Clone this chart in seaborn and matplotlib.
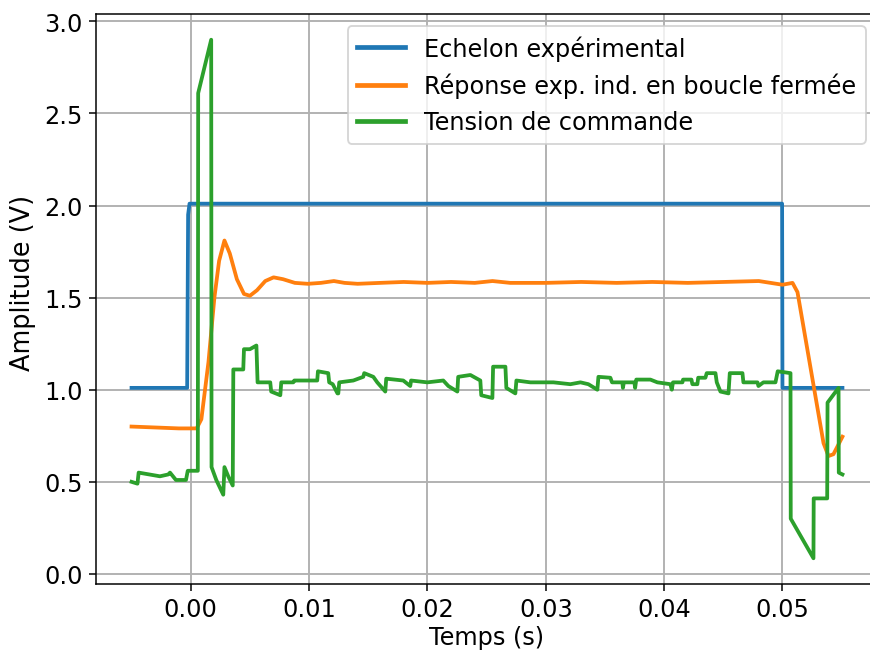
import matplotlib
matplotlib.use("Agg")
import matplotlib.pyplot as plt
import seaborn as sns
import pandas as pd

# ---- data (time in ms) ----
blue_t = [-5.0, -0.30, -0.22, -0.10, 49.97, 50.00, 55.07]
blue_v = [1.01, 1.01, 1.95, 2.01, 2.01, 1.01, 1.01]

orange_t = [-5.0, -3.0, -1.0, 0.5, 0.9, 1.5, 2.0, 2.4, 2.85, 3.3, 3.9, 4.5, 5.0, 5.6,
            6.3, 7.0, 7.8, 8.8, 9.9, 11.0, 12.1, 13.0, 14.1, 16.0, 18.0, 20.0, 22.0,
            24.0, 25.5, 27.0, 30.0, 33.0, 36.0, 39.0, 42.0, 45.0, 48.0, 50.0, 50.85,
            51.27, 53.47, 53.89, 54.31, 55.07]
orange_v = [0.80, 0.795, 0.79, 0.79, 0.84, 1.15, 1.50, 1.70, 1.81, 1.74, 1.60, 1.52,
            1.51, 1.54, 1.59, 1.61, 1.60, 1.58, 1.575, 1.58, 1.59, 1.58, 1.575, 1.58,
            1.585, 1.58, 1.585, 1.58, 1.59, 1.58, 1.58, 1.585, 1.58, 1.585, 1.58,
            1.585, 1.59, 1.57, 1.58, 1.53, 0.71, 0.64, 0.65, 0.745]

green_t = [-5.00, -4.50, -4.40, -2.60, -1.90, -1.75, -1.25, -0.40, -0.25, 0.60, 0.63,
           1.73, 1.76, 2.16, 2.75, 2.85, 3.17, 3.55, 3.60, 4.44, 4.50, 5.00, 5.55,
           5.65, 6.72, 6.80, 7.57, 7.65, 8.67, 8.75, 10.69, 10.75, 11.62, 11.70,
           12.00, 12.40, 12.47, 12.55, 13.74, 14.58, 14.66, 15.43, 15.76, 16.44,
           16.52, 17.96, 18.55, 18.62, 19.99, 21.34, 21.77, 22.53, 22.60, 23.63,
           24.47, 24.55, 25.49, 25.55, 26.59, 26.67, 27.43, 27.52, 28.70, 30.65,
           32.08, 32.93, 33.60, 34.36, 34.45, 35.46, 35.60, 36.47, 36.52, 36.60,
           37.49, 37.55, 37.65, 38.84, 39.43, 40.53, 40.65, 40.75, 41.55, 41.60,
           42.31, 42.39, 42.81, 42.88, 43.49, 43.60, 44.34, 44.45, 44.76, 45.44,
           45.55, 46.62, 46.70, 47.89, 47.97, 48.39, 49.41, 49.60, 50.68, 50.70,
           52.62, 52.64, 53.78, 53.81, 54.74, 54.76, 55.07]
green_v = [0.50, 0.49, 0.55, 0.53, 0.54, 0.55, 0.51, 0.51, 0.56, 0.56, 2.61,
           2.90, 0.58, 0.51, 0.43, 0.58, 0.53, 0.48, 1.11, 1.11, 1.22, 1.22, 1.24,
           1.04, 1.04, 0.99, 0.97, 1.04, 1.04, 1.05, 1.05, 1.10, 1.09, 1.04,
           1.03, 0.98, 0.98, 1.04, 1.05, 1.07, 1.09, 1.07, 1.04, 0.99,
           1.06, 1.05, 1.02, 1.05, 1.04, 1.05, 1.02, 0.99, 1.07, 1.08,
           1.05, 0.97, 0.955, 1.125, 1.125, 1.01, 0.98, 1.05, 1.04, 1.04,
           1.03, 1.04, 1.03, 1.00, 1.07, 1.065, 1.04, 1.04, 1.01, 1.04,
           1.04, 1.01, 1.055, 1.055, 1.04, 1.03, 1.00, 1.04, 1.04, 1.055,
           1.055, 1.03, 1.03, 1.065, 1.065, 1.09, 1.09, 1.04, 0.99, 0.98,
           1.09, 1.09, 1.04, 1.04, 1.02, 1.04, 1.04, 1.10, 1.09, 0.30,
           0.085, 0.41, 0.41, 0.93, 1.01, 0.55, 0.54]

labels = ["Echelon expérimental", "Réponse exp. ind. en boucle fermée",
          "Tension de commande"]
colors = ["#1f77b4", "#ff7f0e", "#2ca02c"]

plt.rcParams["font.size"] = 12.7
plt.rcParams["grid.linewidth"] = 1.0

fig = plt.figure(figsize=(6.4, 4.8), dpi=136)
W, H = 6.4 * 136, 4.8 * 136
ax = fig.add_axes([96 / W, 1 - 585 / H, (878 - 96) / W, (585 - 14.6) / H])

for t, v, lab, col in zip([blue_t, orange_t, green_t], [blue_v, orange_v, green_v],
                          labels, colors):
    df = pd.DataFrame({"t": [x / 1000 for x in t], "v": v})
    sns.lineplot(data=df, x="t", y="v", ax=ax, estimator=None, sort=False,
                 label=lab, color=col, linewidth=2.0)

ax.grid(True)
ax.set_xlabel("Temps (s)", labelpad=2)
ax.set_ylabel("Amplitude (V)", fontsize=13.5)
ax.yaxis.set_label_coords(-0.077, 0.53)
leg = ax.legend(loc="upper right", handlelength=2.0)
for line in leg.get_lines():
    line.set_linewidth(2.5)

fig.savefig("out.png", dpi=136)
